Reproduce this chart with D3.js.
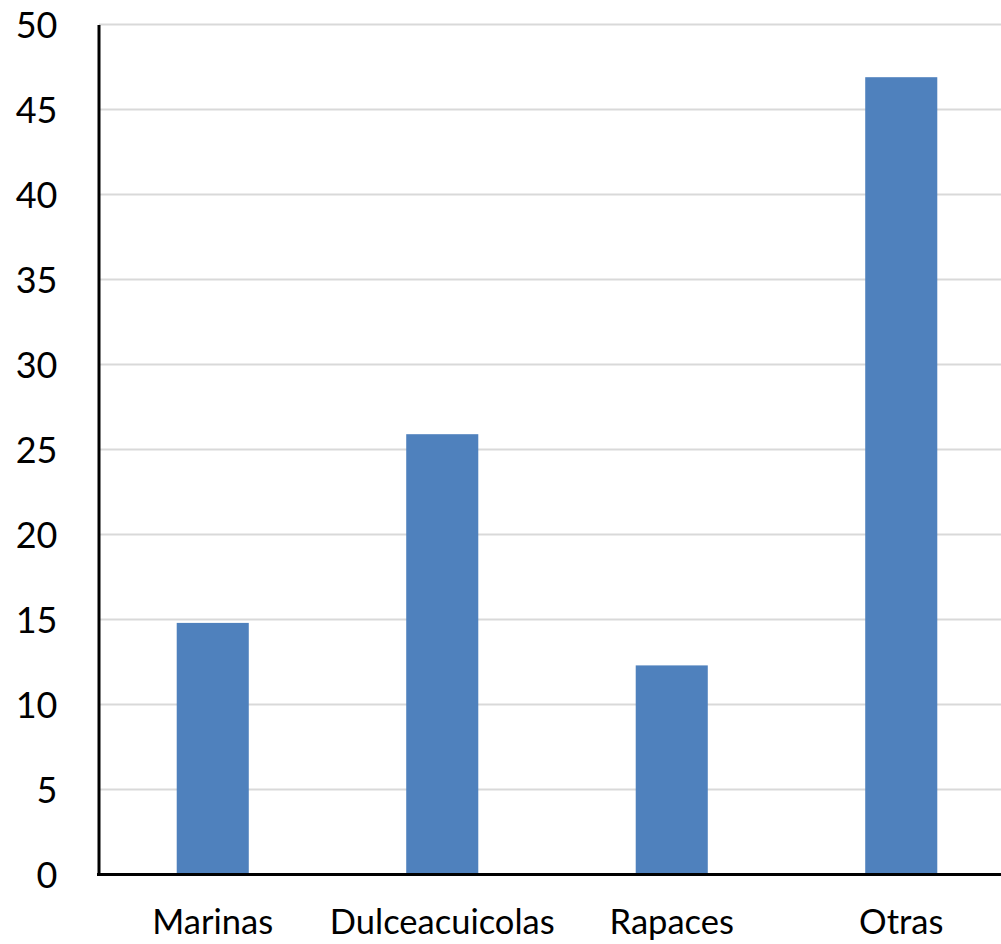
<!DOCTYPE html>
<html><head><meta charset="utf-8">
<script src="https://cdn.jsdelivr.net/npm/d3@7"></script>
<style>html,body{margin:0;padding:0;background:#fff;overflow:hidden}</style>
</head><body>
<svg id="c" width="1001" height="944"></svg>
<script>
const categories = ["Marinas", "Dulceacuicolas", "Rapaces", "Otras"];
const values = [14.8, 25.9, 12.3, 46.9];
const yTicks = [0, 5, 10, 15, 20, 25, 30, 35, 40, 45, 50];

const svg = d3.select("#c");
const font = "Lato, 'Open Sans', sans-serif";
const x = d3.scaleBand().domain(categories).range([98, 1016]).paddingInner(0.686).paddingOuter(0.343);
const y = d3.scaleLinear().domain([0, 50]).range([874.5, 24.5]);

// gridlines
svg.append("g").selectAll("line").data(yTicks.filter(d => d > 0)).join("line")
  .attr("x1", 99).attr("x2", 1001)
  .attr("y1", d => y(d)).attr("y2", d => y(d))
  .attr("stroke", "#d9d9d9").attr("stroke-width", 2);

// bars
svg.append("g").selectAll("rect").data(categories).join("rect")
  .attr("x", d => x(d)).attr("width", x.bandwidth())
  .attr("y", (d, i) => y(values[i])).attr("height", (d, i) => y(0) - y(values[i]))
  .attr("fill", "#4f81bd");

// axes
const yAxis = d3.axisLeft(y).tickValues(yTicks).tickSize(0).tickPadding(41);
const gy = svg.append("g").attr("transform", "translate(98.5,0)").call(yAxis);
gy.select(".domain").attr("stroke", "#000").attr("stroke-width", 3);
gy.selectAll("text").attr("font-family", font).attr("font-size", 36).attr("fill", "#000").attr("dy", "0.35em");

const xAxis = d3.axisBottom(x).tickSize(0).tickPadding(35);
const gx = svg.append("g").attr("transform", "translate(0,874.5)").call(xAxis);
gx.select(".domain").attr("d", "M97,0H1001").attr("stroke", "#000").attr("stroke-width", 3);
gx.selectAll("text").attr("font-family", font).attr("font-size", 34.5).attr("fill", "#000");
</script>
</body></html>
